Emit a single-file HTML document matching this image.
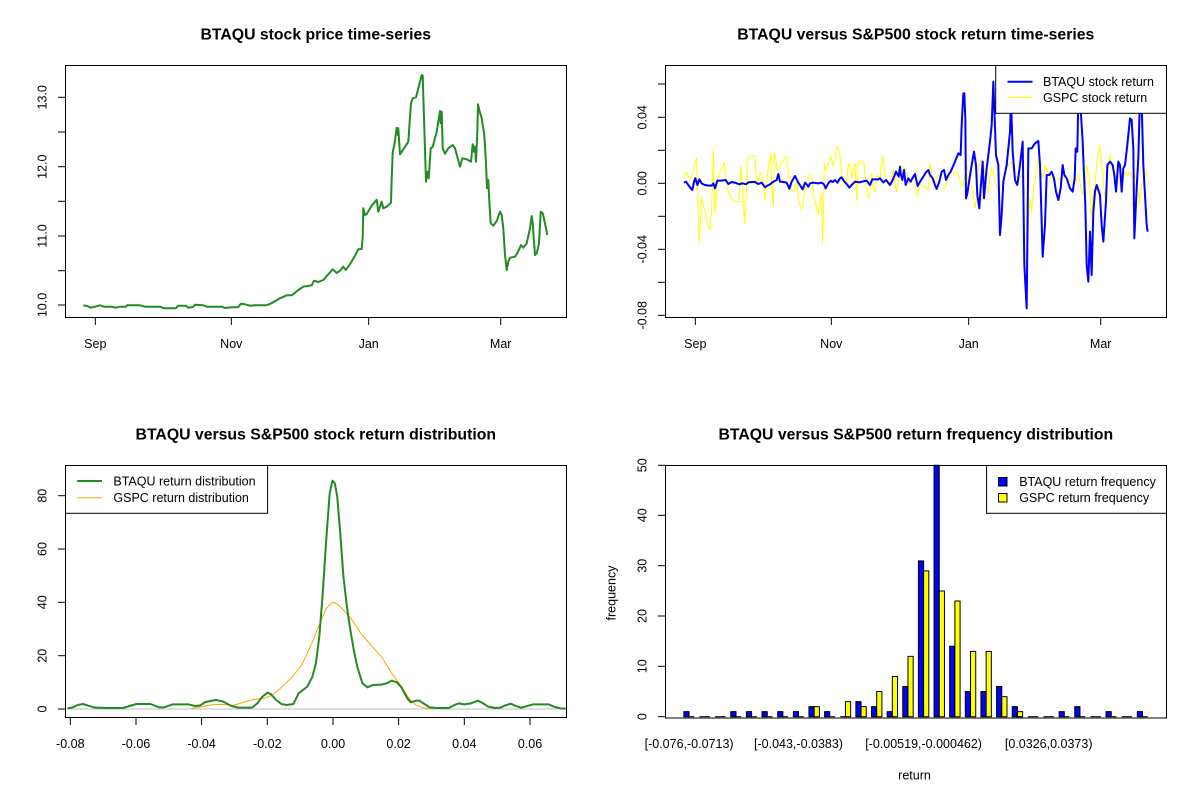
<!DOCTYPE html>
<html><head><meta charset="utf-8"><style>
html,body{margin:0;padding:0;background:#fff;}
svg{display:block;font-family:"Liberation Sans",Arial,sans-serif;}
.t{font-size:12.5px;fill:#000;}
.ti{font-size:15.8px;font-weight:bold;fill:#000;}
.ns{vector-effect:non-scaling-stroke;fill:none;stroke-linejoin:round;}
</style></head><body>
<svg width="1200" height="800" viewBox="0 0 1200 800" xmlns="http://www.w3.org/2000/svg">
<rect width="1200" height="800" fill="#fff"/>

<!-- ============ TOP LEFT ============ -->
<text class="ti" x="315.8" y="39.5" text-anchor="middle">BTAQU stock price time-series</text>
<polyline fill="none" stroke="#228B22" stroke-width="2" stroke-linejoin="round" points="83.3,305.3 87,306 91,307.7 95,306.7 100,305.3 104,306.7 112,306.7 115,307.7 120,306.7 126,306.7 127,305.3 140,305.3 145,306.7 150,306.7 160,306.7 164,308.3 176,308.3 178,305.7 186,305.7 188,307.7 193,307 195,304.7 203,305.3 207,306.7 222,306.7 225,308 232,307.3 238,307.3 241,303.7 245,304.3 250,305.7 255,305.3 266,305.3 270,304 280,298.3 286.7,295.3 291.7,295.3 298.3,290 303.3,286.7 311.7,285.3 314,280.7 318.3,282 323.3,280 332.7,269.3 336.7,273 340,270.7 343.3,266.7 345.7,270 350,264.3 355,255.7 358.3,249.3 361.7,249 362.7,236.7 363.3,208.3 365,215 366.7,214 371.7,205.7 376.7,199.7 378.3,211.7 381.7,201.7 383.3,208.3 386.7,206.7 391,202.7 391.7,178.3 392.7,152.3 394.3,145 396.7,127.7 397.7,135 398.3,128.3 400,154.3 404,148.3 408.3,141.7 410,116.7 411,103.3 412.7,98.3 416,97.3 418.3,88.3 421.7,75 422.7,75.7 424,118.3 426,181.7 427.3,171.7 428.7,178.3 430.7,148.3 432.7,146.7 436.7,131.7 438.3,121.7 440,111 440.7,123.3 441.7,111.7 442.7,148.3 445,153.7 448.3,148.3 452.7,145 455,148.3 457.3,156.7 460,166.7 461,163.3 462.3,158.3 466.7,159.3 471,161.7 472.7,144.3 474,151.7 475,146.7 476,161.7 477.3,133.3 478,104.3 479.3,110 481.7,118.3 484.3,135 486,163.3 487,188.3 488.3,180 489.3,201.7 490.7,223.3 493.3,225.7 496.7,221 500,211.7 501.7,215 503.3,228.3 505,255 506.7,270 508.3,261.7 510,257.7 515,256.7 517.3,253.3 521,245 523.3,247.7 526.7,243.3 530,228.3 531.7,216 532.7,223.3 535,255 536.7,253.3 539,243.3 540.7,211.7 542.7,213.3 544.3,220 547.3,235"/>
<rect x="65.5" y="65.5" width="501" height="252" fill="none" stroke="#000" stroke-width="1"/>
<g stroke="#000" stroke-width="1">
<line x1="58" y1="97.3" x2="65.5" y2="97.3"/><line x1="58" y1="132" x2="65.5" y2="132"/><line x1="58" y1="166.7" x2="65.5" y2="166.7"/><line x1="58" y1="201.3" x2="65.5" y2="201.3"/><line x1="58" y1="236" x2="65.5" y2="236"/><line x1="58" y1="270.7" x2="65.5" y2="270.7"/><line x1="58" y1="305" x2="65.5" y2="305"/>
<line x1="95.3" y1="317.5" x2="95.3" y2="325"/><line x1="231.3" y1="317.5" x2="231.3" y2="325"/><line x1="368.7" y1="317.5" x2="368.7" y2="325"/><line x1="500.7" y1="317.5" x2="500.7" y2="325"/>
</g>
<g class="t" text-anchor="middle">
<text transform="translate(46.5,97.3) rotate(-90)">13.0</text>
<text transform="translate(46.5,166.7) rotate(-90)">12.0</text>
<text transform="translate(46.5,236) rotate(-90)">11.0</text>
<text transform="translate(46.5,305) rotate(-90)">10.0</text>
<text x="95.3" y="348">Sep</text><text x="231.3" y="348">Nov</text><text x="368.7" y="348">Jan</text><text x="500.7" y="348">Mar</text>
</g>

<!-- ============ TOP RIGHT ============ -->
<text class="ti" x="915.8" y="39.5" text-anchor="middle">BTAQU versus S&amp;P500 stock return time-series</text>
<!-- yellow GSPC -->
<g transform="translate(660,120) scale(0.333333)">
<polyline class="ns" stroke="#FFFF00" stroke-width="1" points="72,175 78,157 85,170 92,180 100,150 105,130 110,115 113,230 118,368 122,300 125,230 130,255 140,300 150,330 155,270 160,90 163,200 166,280 170,200 175,170 185,145 193,125 198,180 205,215 215,240 228,245 238,245 243,140 248,210 253,310 258,240 262,140 265,110 275,108 285,108 290,200 295,180 300,160 305,160 310,190 315,240 320,190 325,140 332,100 335,200 340,260 343,100 348,120 352,150 357,140 367,125 380,108 385,160 395,210 402,215 410,185 418,250 425,270 430,245 435,190 440,180 448,165 455,165 460,225 465,245 475,285 480,245 485,220 487,368 490,300 493,130 497,150 505,130 512,110 520,140 530,82 535,85 540,110 548,185 555,195 560,180 565,135 568,130 575,175 580,150 585,130 590,240 595,125 605,125 612,130 618,200 625,235 630,220 635,160 640,200 645,215 652,165 660,175 668,108 672,140 678,180 685,195 695,175 700,150 705,195 710,215 715,185 720,160 728,140 735,150 742,165 748,195 755,180 765,190 772,230 778,190 785,195 795,200 805,210 810,130 815,160 820,185 830,175 840,160"/>
</g>
<g transform="translate(930,65) scale(0.333333)">
<polyline class="ns" stroke="#FFFF00" stroke-width="1" points="30,370 35,370 45,370 55,340 65,330 75,320 85,330 92,355 98,365 105,330 110,300 118,330 125,360 135,430 140,400 145,310 150,290 155,285 158,320 162,300 168,360 175,380 180,330 185,310 190,330 195,350 205,380 212,360 218,350 225,330 230,310 238,295 245,290 250,320 258,360 265,350 270,340 275,330 282,360 290,420 295,480 300,400 305,440 312,360 318,330 325,280 332,320 338,340 345,300 352,320 358,330 365,340 372,350 380,345 388,340 395,350 402,330 410,340 418,345 425,350 432,355 438,345 445,330 452,360 458,390 465,370 470,300 478,340 485,460 490,380 495,360 500,300 508,240 512,260 518,330 525,400 532,330 540,270 545,290 550,320 555,350 560,300 565,290 572,320 578,360 585,320 592,330 600,320 607,340 613,325 620,350 625,380 628,420 635,360 640,350 645,330 650,320 653,335"/>
</g>
<!-- blue BTAQU -->
<g transform="translate(660,120) scale(0.333333)">
<polyline class="ns" stroke="#0000FF" stroke-width="2" points="72,188 78,185 85,195 92,205 97,210 102,185 106,175 112,195 118,178 125,190 135,195 145,197 155,197 160,190 165,205 172,182 185,182 197,180 205,192 215,186 225,188 238,193 247,190 258,193 265,187 275,186 285,186 295,192 305,188 315,202 320,198 330,193 340,185 350,180 355,162 360,185 370,186 380,188 388,206 395,185 405,168 415,188 428,208 435,188 440,193 445,200 450,190 460,188 475,190 485,188 492,193 497,205 505,190 512,182 518,186 525,180 532,188 540,175 545,172 552,183 560,192 568,203 575,195 585,185 600,187 610,184 620,182 630,195 637,178 645,178 655,178 660,175 670,187 678,180 690,195 698,180 703,168 708,155 712,162 716,170 720,140 722,160 727,180 732,150 737,195 745,175 752,185 757,175 765,162 773,198 780,185 790,170 797,158 805,150 810,165"/>
</g>
<g transform="translate(930,65) scale(0.333333)">
<polyline class="ns" stroke="#0000FF" stroke-width="2" points="0,330 8,340 15,360 20,372 28,350 35,320 42,315 48,345 55,330 62,320 75,290 85,265 92,270 95,180 100,85 103,85 106,160 108,400 112,385 118,345 125,300 132,260 138,300 142,390 148,430 152,370 158,290 162,400 170,310 180,230 185,180 190,50 193,130 198,270 205,300 210,510 215,450 220,350 230,300 240,200 243,100 248,260 255,345 262,360 270,300 278,230 283,600 290,730 295,250 305,250 315,235 325,228 330,300 338,575 345,480 350,330 358,330 365,320 372,340 378,380 385,405 392,370 398,300 403,330 410,340 420,370 428,380 434,340 437,250 442,260 445,90 450,100 458,230 462,330 466,420 470,600 475,650 480,500 485,630 490,440 495,380 500,360 510,390 515,480 520,530 528,410 532,300 540,290 548,300 553,330 558,380 565,290 570,300 575,380 580,310 585,300 592,240 600,160 605,165 610,250 613,520 620,370 625,280 630,90 634,80 640,300 645,390 650,480 653,500"/>
</g>
<rect x="665.5" y="65.5" width="501" height="252" fill="none" stroke="#000" stroke-width="1"/>
<g stroke="#000" stroke-width="1">
<line x1="658" y1="84" x2="665.5" y2="84"/><line x1="658" y1="117.3" x2="665.5" y2="117.3"/><line x1="658" y1="150.3" x2="665.5" y2="150.3"/><line x1="658" y1="183.3" x2="665.5" y2="183.3"/><line x1="658" y1="216.3" x2="665.5" y2="216.3"/><line x1="658" y1="249.3" x2="665.5" y2="249.3"/><line x1="658" y1="282.3" x2="665.5" y2="282.3"/><line x1="658" y1="315.3" x2="665.5" y2="315.3"/>
<line x1="695.3" y1="317.5" x2="695.3" y2="325"/><line x1="831.3" y1="317.5" x2="831.3" y2="325"/><line x1="968.7" y1="317.5" x2="968.7" y2="325"/><line x1="1100.7" y1="317.5" x2="1100.7" y2="325"/>
</g>
<g class="t" text-anchor="middle">
<text transform="translate(646.5,117.3) rotate(-90)">0.04</text>
<text transform="translate(646.5,183.3) rotate(-90)">0.00</text>
<text transform="translate(646.5,249.3) rotate(-90)">-0.04</text>
<text transform="translate(646.5,315.3) rotate(-90)">-0.08</text>
<text x="695.3" y="348">Sep</text><text x="831.3" y="348">Nov</text><text x="968.7" y="348">Jan</text><text x="1100.7" y="348">Mar</text>
</g>
<rect x="995.7" y="65.5" width="170.8" height="47.8" fill="#fff" stroke="#000" stroke-width="1"/>
<line x1="1007.5" y1="81.7" x2="1032.5" y2="81.7" stroke="#0000FF" stroke-width="2"/>
<line x1="1007.5" y1="97.3" x2="1032.5" y2="97.3" stroke="#FFFF00" stroke-width="1"/>
<text class="t" x="1043" y="86.2">BTAQU stock return</text>
<text class="t" x="1043" y="101.8">GSPC stock return</text>

<!-- ============ BOTTOM LEFT ============ -->
<text class="ti" x="315.8" y="439.5" text-anchor="middle">BTAQU versus S&amp;P500 stock return distribution</text>
<line x1="65.5" y1="709" x2="566.5" y2="709" stroke="#BEBEBE" stroke-width="1"/>
<g transform="translate(40,450) scale(0.344828,0.333333)">
<polyline class="ns" stroke="#FFA500" stroke-width="1" points="440,775 470,770 500,764 530,763 560,766 590,757 620,748 650,745 675,735 700,712 730,683 760,643 790,575 810,525 830,475 848,457 860,460 880,480 905,510 930,550 960,585 990,620 1020,670 1050,712 1070,745 1090,765 1110,773 1140,777"/>
<polyline class="ns" stroke="#228B22" stroke-width="2" points="80,775 95,772 110,765 125,762 140,767 160,773 200,774 240,774 260,768 280,762 320,762 345,772 360,772 385,763 430,763 450,768 465,766 480,756 510,750 530,754 555,768 575,773 615,773 630,760 645,740 660,728 670,733 685,750 700,762 715,765 735,762 750,730 775,710 790,680 800,640 810,560 820,430 830,270 840,130 848,92 855,100 862,140 870,240 880,380 890,470 900,540 910,600 920,650 935,700 950,712 965,705 990,704 1005,700 1020,692 1035,697 1048,712 1065,745 1075,757 1090,752 1100,752 1115,762 1130,772 1150,774 1185,774 1200,766 1215,760 1230,763 1250,760 1270,752 1285,760 1300,770 1320,774 1335,773 1350,766 1365,761 1380,768 1395,773 1410,769 1430,763 1475,763 1490,770 1510,775 1525,776"/>
</g>
<rect x="65.5" y="465.5" width="501" height="252" fill="none" stroke="#000" stroke-width="1"/>
<g stroke="#000" stroke-width="1">
<line x1="58" y1="709" x2="65.5" y2="709"/><line x1="58" y1="655.7" x2="65.5" y2="655.7"/><line x1="58" y1="602.3" x2="65.5" y2="602.3"/><line x1="58" y1="549" x2="65.5" y2="549"/><line x1="58" y1="495.7" x2="65.5" y2="495.7"/>
<line x1="70.3" y1="717.5" x2="70.3" y2="725"/><line x1="136" y1="717.5" x2="136" y2="725"/><line x1="201.6" y1="717.5" x2="201.6" y2="725"/><line x1="267.3" y1="717.5" x2="267.3" y2="725"/><line x1="333" y1="717.5" x2="333" y2="725"/><line x1="398.6" y1="717.5" x2="398.6" y2="725"/><line x1="464.3" y1="717.5" x2="464.3" y2="725"/><line x1="530" y1="717.5" x2="530" y2="725"/>
</g>
<g class="t" text-anchor="middle">
<text transform="translate(46.5,709) rotate(-90)">0</text>
<text transform="translate(46.5,655.7) rotate(-90)">20</text>
<text transform="translate(46.5,602.3) rotate(-90)">40</text>
<text transform="translate(46.5,549) rotate(-90)">60</text>
<text transform="translate(46.5,495.7) rotate(-90)">80</text>
<text x="70.3" y="748">-0.08</text><text x="136" y="748">-0.06</text><text x="201.6" y="748">-0.04</text><text x="267.3" y="748">-0.02</text><text x="333" y="748">0.00</text><text x="398.6" y="748">0.02</text><text x="464.3" y="748">0.04</text><text x="530" y="748">0.06</text>
</g>
<rect x="65.5" y="465.5" width="202.1" height="47.8" fill="#fff" stroke="#000" stroke-width="1"/>
<line x1="77.2" y1="481" x2="102" y2="481" stroke="#228B22" stroke-width="2"/>
<line x1="77.2" y1="497.7" x2="102" y2="497.7" stroke="#FFA500" stroke-width="1"/>
<text class="t" x="113.4" y="485.5">BTAQU return distribution</text>
<text class="t" x="113.4" y="502.2">GSPC return distribution</text>

<!-- ============ BOTTOM RIGHT ============ -->
<text class="ti" x="915.8" y="439.5" text-anchor="middle">BTAQU versus S&amp;P500 return frequency distribution</text>
<g transform="translate(0,716.7) scale(1,-5.028)" stroke="#000" stroke-width="1">
<g fill="#0000FF">
<rect class="ns" style="fill:#0000FF" x="683.86" y="0" width="5.21" height="1"/>
<rect class="ns" style="fill:#0000FF" x="730.77" y="0" width="5.21" height="1"/>
<rect class="ns" style="fill:#0000FF" x="746.40" y="0" width="5.21" height="1"/>
<rect class="ns" style="fill:#0000FF" x="762.04" y="0" width="5.21" height="1"/>
<rect class="ns" style="fill:#0000FF" x="777.68" y="0" width="5.21" height="1"/>
<rect class="ns" style="fill:#0000FF" x="793.31" y="0" width="5.21" height="1"/>
<rect class="ns" style="fill:#0000FF" x="808.95" y="0" width="5.21" height="2"/>
<rect class="ns" style="fill:#0000FF" x="824.58" y="0" width="5.21" height="1"/>
<rect class="ns" style="fill:#0000FF" x="855.86" y="0" width="5.21" height="3"/>
<rect class="ns" style="fill:#0000FF" x="871.49" y="0" width="5.21" height="2"/>
<rect class="ns" style="fill:#0000FF" x="887.13" y="0" width="5.21" height="1"/>
<rect class="ns" style="fill:#0000FF" x="902.76" y="0" width="5.21" height="6"/>
<rect class="ns" style="fill:#0000FF" x="918.40" y="0" width="5.21" height="31"/>
<rect class="ns" style="fill:#0000FF" x="934.04" y="0" width="5.21" height="50"/>
<rect class="ns" style="fill:#0000FF" x="949.67" y="0" width="5.21" height="14"/>
<rect class="ns" style="fill:#0000FF" x="965.31" y="0" width="5.21" height="5"/>
<rect class="ns" style="fill:#0000FF" x="980.94" y="0" width="5.21" height="5"/>
<rect class="ns" style="fill:#0000FF" x="996.58" y="0" width="5.21" height="6"/>
<rect class="ns" style="fill:#0000FF" x="1012.22" y="0" width="5.21" height="2"/>
<rect class="ns" style="fill:#0000FF" x="1059.12" y="0" width="5.21" height="1"/>
<rect class="ns" style="fill:#0000FF" x="1074.76" y="0" width="5.21" height="2"/>
<rect class="ns" style="fill:#0000FF" x="1106.03" y="0" width="5.21" height="1"/>
<rect class="ns" style="fill:#0000FF" x="1137.30" y="0" width="5.21" height="1"/>
</g>
<g>
<rect class="ns" style="fill:#FFFF00" x="814.16" y="0" width="5.21" height="2"/>
<rect class="ns" style="fill:#FFFF00" x="845.43" y="0" width="5.21" height="3"/>
<rect class="ns" style="fill:#FFFF00" x="861.07" y="0" width="5.21" height="2"/>
<rect class="ns" style="fill:#FFFF00" x="876.70" y="0" width="5.21" height="5"/>
<rect class="ns" style="fill:#FFFF00" x="892.34" y="0" width="5.21" height="8"/>
<rect class="ns" style="fill:#FFFF00" x="907.97" y="0" width="5.21" height="12"/>
<rect class="ns" style="fill:#FFFF00" x="923.61" y="0" width="5.21" height="29"/>
<rect class="ns" style="fill:#FFFF00" x="939.25" y="0" width="5.21" height="25"/>
<rect class="ns" style="fill:#FFFF00" x="954.88" y="0" width="5.21" height="23"/>
<rect class="ns" style="fill:#FFFF00" x="970.52" y="0" width="5.21" height="13"/>
<rect class="ns" style="fill:#FFFF00" x="986.15" y="0" width="5.21" height="13"/>
<rect class="ns" style="fill:#FFFF00" x="1001.79" y="0" width="5.21" height="4"/>
<rect class="ns" style="fill:#FFFF00" x="1017.43" y="0" width="5.21" height="1"/>
</g>
</g>
<!-- zero-height bars as baseline segments -->
<g stroke="#000" stroke-width="1">
<line x1="689.07" y1="716.7" x2="694.28" y2="716.7"/>
<line x1="699.50" y1="716.7" x2="709.92" y2="716.7"/>
<line x1="715.13" y1="716.7" x2="725.55" y2="716.7"/>
<line x1="735.98" y1="716.7" x2="741.19" y2="716.7"/>
<line x1="751.61" y1="716.7" x2="756.82" y2="716.7"/>
<line x1="767.25" y1="716.7" x2="772.46" y2="716.7"/>
<line x1="782.89" y1="716.7" x2="788.10" y2="716.7"/>
<line x1="798.52" y1="716.7" x2="803.73" y2="716.7"/>
<line x1="829.79" y1="716.7" x2="835.00" y2="716.7"/>
<line x1="840.22" y1="716.7" x2="845.43" y2="716.7"/>
<line x1="1017.43" y1="716.7" x2="1022.64" y2="716.7"/>
<line x1="1027.85" y1="716.7" x2="1038.27" y2="716.7"/>
<line x1="1043.49" y1="716.7" x2="1053.91" y2="716.7"/>
<line x1="1064.33" y1="716.7" x2="1069.54" y2="716.7"/>
<line x1="1079.97" y1="716.7" x2="1085.18" y2="716.7"/>
<line x1="1090.40" y1="716.7" x2="1100.82" y2="716.7"/>
<line x1="1111.24" y1="716.7" x2="1116.45" y2="716.7"/>
<line x1="1121.67" y1="716.7" x2="1132.09" y2="716.7"/>
<line x1="1142.51" y1="716.7" x2="1147.72" y2="716.7"/>
</g>
<rect x="665.5" y="465.5" width="501" height="252.5" fill="none" stroke="#000" stroke-width="1"/>
<g stroke="#000" stroke-width="1">
<line x1="658" y1="716.7" x2="665.5" y2="716.7"/><line x1="658" y1="666.3" x2="665.5" y2="666.3"/><line x1="658" y1="616" x2="665.5" y2="616"/><line x1="658" y1="565.7" x2="665.5" y2="565.7"/><line x1="658" y1="515.3" x2="665.5" y2="515.3"/><line x1="658" y1="465.3" x2="665.5" y2="465.3"/>
</g>
<g class="t" text-anchor="middle">
<text transform="translate(646.5,716.7) rotate(-90)">0</text>
<text transform="translate(646.5,666.3) rotate(-90)">10</text>
<text transform="translate(646.5,616) rotate(-90)">20</text>
<text transform="translate(646.5,565.7) rotate(-90)">30</text>
<text transform="translate(646.5,515.3) rotate(-90)">40</text>
<text transform="translate(646.5,465.3) rotate(-90)">50</text>
<text x="689.1" y="748">[-0.076,-0.0713)</text>
<text x="798.5" y="748">[-0.043,-0.0383)</text>
<text x="923.6" y="748">[-0.00519,-0.000462)</text>
<text x="1048.7" y="748">[0.0326,0.0373)</text>
<text x="914.5" y="779.5">return</text>
<text transform="translate(615.5,593) rotate(-90)">frequency</text>
</g>
<rect x="986.6" y="465.5" width="179.9" height="47.8" fill="#fff" stroke="#000" stroke-width="1"/>
<rect x="998.5" y="477.5" width="8.5" height="8.5" fill="#0000FF" stroke="#000" stroke-width="1"/>
<rect x="998.5" y="493.5" width="8.5" height="8.5" fill="#FFFF00" stroke="#000" stroke-width="1"/>
<text class="t" x="1019.2" y="486.2">BTAQU return frequency</text>
<text class="t" x="1019.2" y="502.2">GSPC return frequency</text>
</svg>
</body></html>
